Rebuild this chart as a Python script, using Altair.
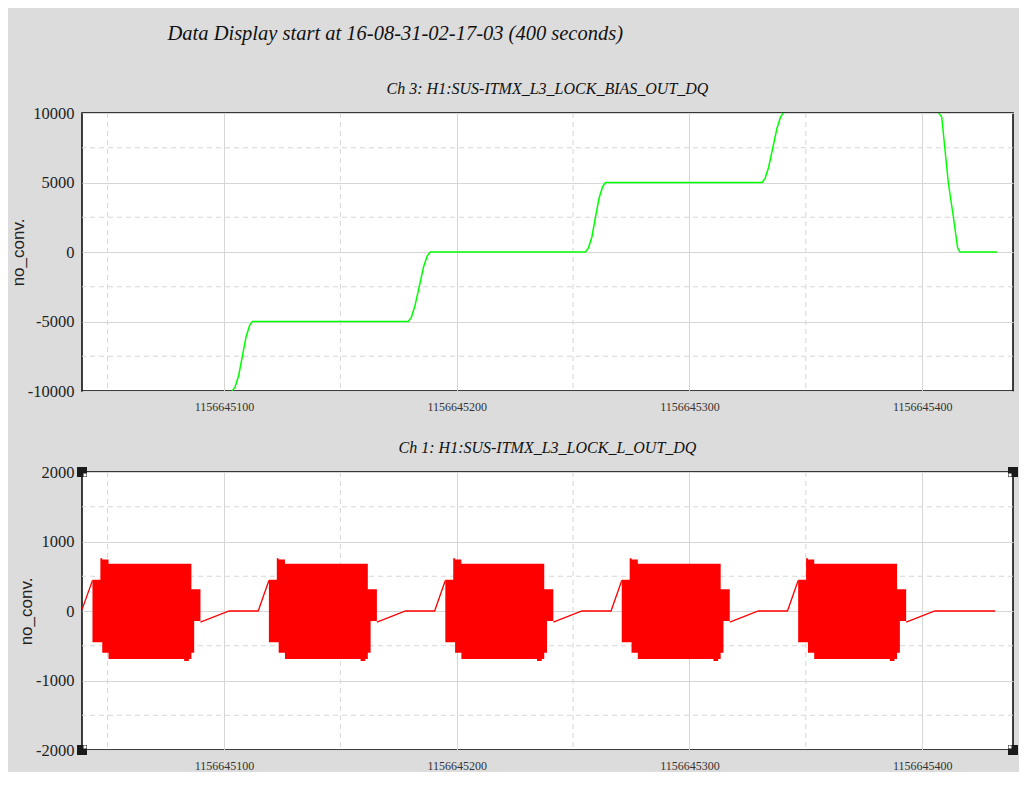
import altair as alt
import pandas as pd

T0 = 1156645000
X_MIN, X_MAX = 1156645039, 1156645439

# ---------- Ch 3: bias (seconds after T0, value); values beyond +-10000 are off-scale ----------
bias_t = [39, 101.5, 103.5, 104.8, 106.3, 107.9, 109.5, 111.0, 112.2,
          179.2, 180.5, 182.0, 183.9, 185.7, 187.3, 188.6,
          255.3, 256.6, 258.1, 259.6, 261.2, 262.7, 263.9,
          331.2, 332.5, 334.0, 335.8, 337.6, 339.1, 340.3, 343.0,
          404.5, 407.1, 408.4, 409.7, 411.2, 413.4, 415.2, 416.2, 432.1]
bias_v = [-12500, -12500, -10000, -9700, -8900, -7500, -6100, -5300, -5000,
          -5000, -4700, -3900, -2500, -1100, -300, 0,
          0, 300, 1100, 2500, 3900, 4700, 5000,
          5000, 5300, 6100, 7500, 8900, 9700, 10000, 12500,
          12500, 10000, 9700, 7500, 5000, 2500, 300, 0, 0]

# ---------- Ch 1: L out, burst envelopes ----------
burst_up = [450, 760, 740, 680, 680, 680, 312, 312, 312]
burst_lo = [-450, -450, -600, -690, -720, -690, -600, -144, -144]
burst_t = [
    [43.5, 46.9, 47.7, 50.4, 82.9, 84.9, 86.0, 87.2, 89.9],
    [119.3, 122.7, 123.5, 126.2, 158.7, 160.7, 161.8, 163.0, 165.7],
    [195.1, 198.5, 199.3, 202.0, 234.5, 236.5, 237.6, 238.8, 241.5],
    [270.9, 274.3, 275.1, 277.8, 310.3, 312.3, 313.4, 314.6, 317.3],
    [346.7, 350.1, 350.9, 353.6, 386.1, 388.1, 389.2, 390.4, 393.1],
]
# connecting ramps between bursts
link_t = [[39, 43.5],
          [89.9, 102.2, 114.7, 119.3],
          [165.7, 178.0, 190.5, 195.1],
          [241.5, 253.8, 266.3, 270.9],
          [317.3, 329.6, 342.1, 346.7],
          [393.1, 405.4, 431.3]]
link_v = [[20, 440],
          [-160, 0, 0, 440],
          [-160, 0, 0, 440],
          [-160, 0, 0, 440],
          [-160, 0, 0, 440],
          [-160, 0, 0]]

x_major = [1156645100, 1156645200, 1156645300, 1156645400]
x_minor = [1156645050, 1156645150, 1156645250, 1156645350]
y1_major = [-10000, -5000, 0, 5000, 10000]
y1_minor = [-7500, -2500, 2500, 7500]
y2_major = [-2000, -1000, 0, 1000, 2000]
y2_minor = [-1500, -500, 500, 1500]

bias_df = pd.DataFrame({"t": [T0 + v for v in bias_t], "v": bias_v})
rows = []
for b, ts in enumerate(burst_t):
    for t, u, l in zip(ts, burst_up, burst_lo):
        rows.append({"t": T0 + t, "up": u, "lo": l, "b": b})
burst_df = pd.DataFrame(rows)
rows = []
for s, (ts, vs) in enumerate(zip(link_t, link_v)):
    for t, v in zip(ts, vs):
        rows.append({"t": T0 + t, "v": v, "s": s})
link_df = pd.DataFrame(rows)

GRID = "#d6d6d6"
SERIF = "Liberation Serif"
SANS = "Liberation Sans"

xscale = alt.Scale(domain=[X_MIN, X_MAX], nice=False, zero=False)


def xaxis():
    return alt.Axis(values=x_major, format="d", title=None, ticks=False, domain=False,
                    grid=True, gridColor=GRID, gridWidth=1,
                    labelFont=SERIF, labelFontSize=12, labelColor="#333",
                    labelPadding=10, labelFlush=False)


def yaxis(vals):
    return alt.Axis(values=vals, title="no_conv.", ticks=False, domain=False,
                    labelExpr="'' + datum.value",
                    grid=True, gridColor=GRID, gridWidth=1,
                    labelFont=SERIF, labelFontSize=16.5, labelColor="#222",
                    labelPadding=8, labelFlush=False,
                    titleFont=SANS, titleFontSize=17, titleFontWeight="normal",
                    titleColor="#222", titlePadding=0)


def panel(title, ydom, ymaj, ymin, data_layers):
    yscale = alt.Scale(domain=ydom, nice=False, zero=False)
    vr = alt.Chart(pd.DataFrame({"x": x_minor})).mark_rule(
        color=GRID, strokeDash=[5, 4], strokeWidth=1).encode(
        x=alt.X("x:Q", scale=xscale, axis=xaxis()))
    hr = alt.Chart(pd.DataFrame({"y": ymin})).mark_rule(
        color=GRID, strokeDash=[5, 4], strokeWidth=1).encode(
        y=alt.Y("y:Q", scale=yscale, axis=yaxis(ymaj)))
    return alt.layer(vr, hr, *data_layers(yscale, ymaj)).properties(
        width=931, height=278,
        title=alt.TitleParams(title, font=SERIF, fontStyle="italic", fontSize=16,
                              fontWeight="normal", color="#111", offset=8,
                              anchor="middle", frame="group"))


def top_layers(yscale, ymaj):
    line = alt.Chart(bias_df).mark_line(color="#00ff00", strokeWidth=1.5, clip=True).encode(
        x=alt.X("t:Q", scale=xscale, axis=xaxis()),
        y=alt.Y("v:Q", scale=yscale, axis=yaxis(ymaj)))
    return [line]


def bottom_layers(yscale, ymaj):
    area = alt.Chart(burst_df).mark_area(color="#ff0000", interpolate="step-after",
                                         clip=True).encode(
        x=alt.X("t:Q", scale=xscale, axis=xaxis()),
        y=alt.Y("up:Q", scale=yscale, axis=yaxis(ymaj)),
        y2="lo:Q",
        detail="b:N")
    line = alt.Chart(link_df).mark_line(color="#ff0000", strokeWidth=1.3, clip=True).encode(
        x=alt.X("t:Q", scale=xscale, axis=xaxis()),
        y=alt.Y("v:Q", scale=yscale, axis=yaxis(ymaj)),
        detail="s:N")
    corners = []
    for cx, cy, dx, dy in [(X_MIN, 2000, 3, 3), (X_MIN, -2000, 3, -3),
                           (X_MAX, -2000, -3, -3), (X_MAX, 2000, -3, 3)]:
        corners.append(alt.Chart().mark_square(color="#1a1a1a", size=100, opacity=1,
                                               clip=False).encode(
            x=alt.datum(cx, scale=xscale, axis=xaxis()),
            y=alt.datum(cy, scale=yscale, axis=yaxis(ymaj))))
        corners.append(alt.Chart().mark_square(color="white", size=9, opacity=1,
                                               xOffset=dx, yOffset=dy, clip=False).encode(
            x=alt.datum(cx, scale=xscale, axis=xaxis()),
            y=alt.datum(cy, scale=yscale, axis=yaxis(ymaj))))
    return [area, line] + corners


p1 = panel("Ch 3: H1:SUS-ITMX_L3_LOCK_BIAS_OUT_DQ", [-10000, 10000], y1_major, y1_minor, top_layers)
p2 = panel("Ch 1: H1:SUS-ITMX_L3_LOCK_L_OUT_DQ", [-2000, 2000], y2_major, y2_minor, bottom_layers)

chart = alt.vconcat(p1, p2, spacing=26).properties(
    title=alt.TitleParams("Data Display start at 16-08-31-02-17-03 (400 seconds)",
                          font=SERIF, fontStyle="italic", fontSize=20.5, fontWeight="normal",
                          color="#111", anchor="start", dx=159, offset=36),
    padding={"left": 0, "top": 15, "right": 0, "bottom": 0},
    background="#dcdcdc",
).configure_view(stroke="black", strokeWidth=1.5, fill="white")

chart.save("out.html", embed_options={"renderer": "svg", "actions": False})
